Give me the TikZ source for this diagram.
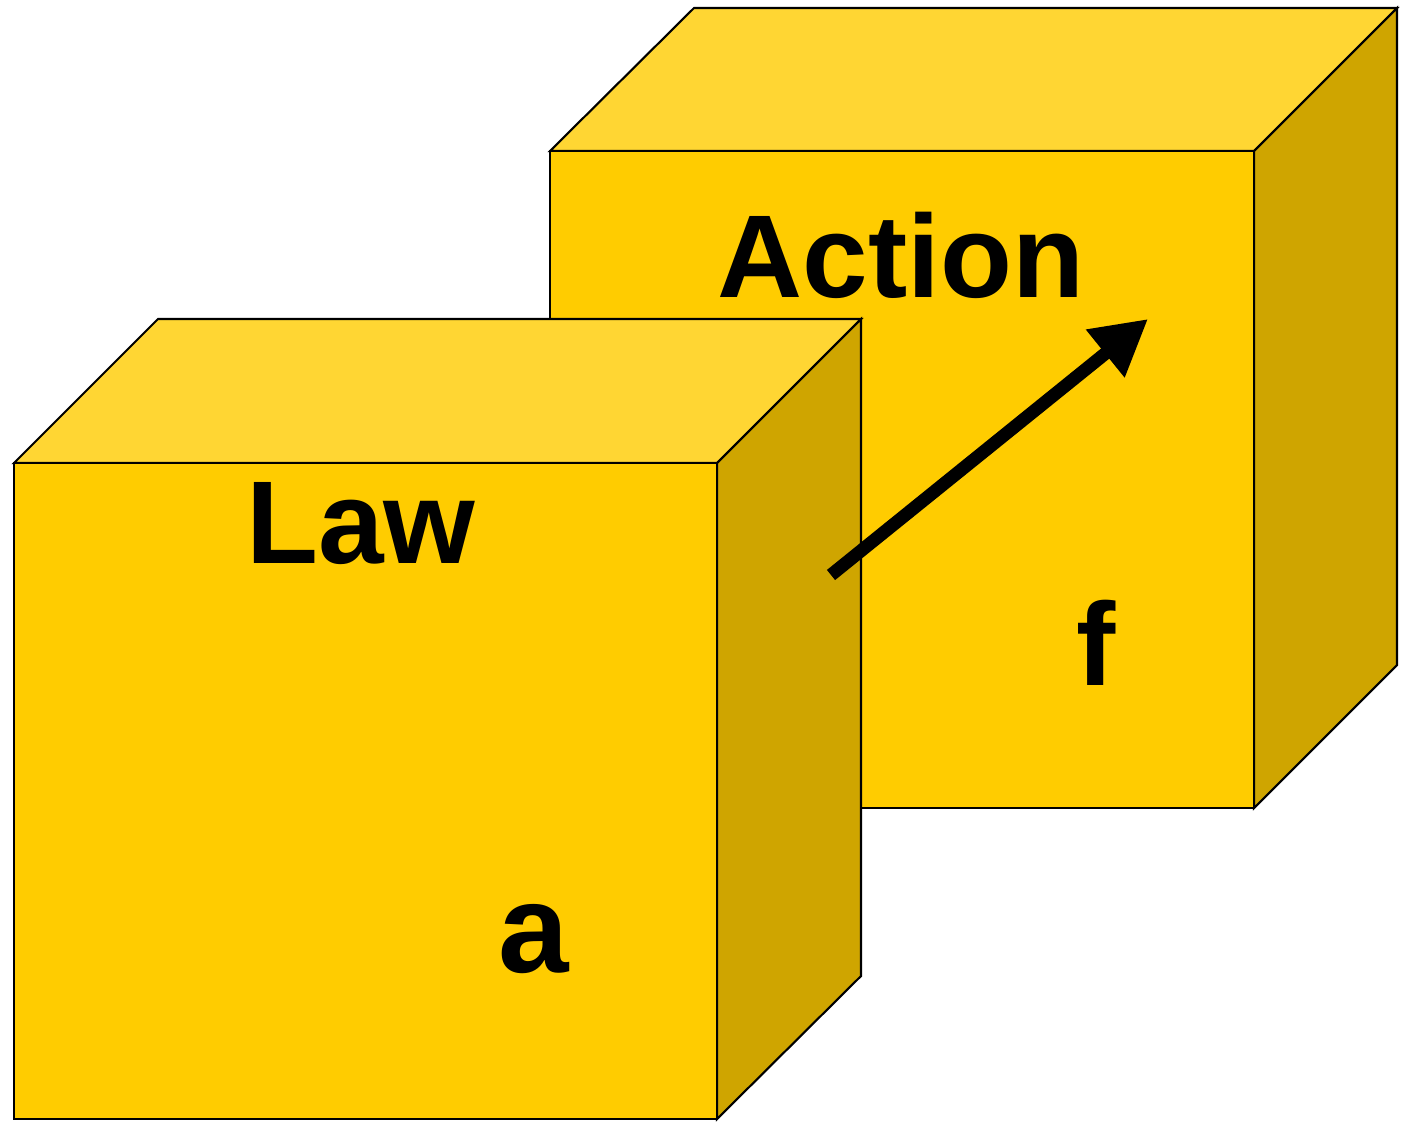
\documentclass[tikz,border=0pt]{standalone}
\usepackage{fontspec}
\setmainfont{Liberation Sans}
\usepackage{xcolor}
\usetikzlibrary{arrows.meta}

\definecolor{cara}{HTML}{FFCC00}
\definecolor{tapa}{HTML}{FFD633}
\definecolor{lado}{HTML}{CFA500}

\begin{document}
\begin{tikzpicture}[x=0.01cm, y=-0.01cm, line join=miter,
  frente/.style={draw, line width=0.6pt, fill=cara},
  arriba/.style={draw, line width=0.6pt, fill=tapa},
  costado/.style={draw, line width=0.6pt, fill=lado},
  rotulo/.style={font=\bfseries\fontsize{33.5}{40}\selectfont, inner sep=0pt, anchor=base},
  flecha/.style={-{Triangle[length=0.55cm, width=0.58cm]}, line width=0.13cm}]
\useasboundingbox (0,0) rectangle (1409,1121);
% cubo de atras
\filldraw[arriba] (550,151) -- (694,8) -- (1397,8) -- (1254,151) -- cycle;
\filldraw[costado] (1254,151) -- (1397,8) -- (1397,665) -- (1254,808) -- cycle;
\filldraw[frente] (550,151) rectangle (1254,808);
% cubo de adelante
\filldraw[arriba] (14,463) -- (158,319) -- (861,319) -- (717,463) -- cycle;
\filldraw[costado] (717,463) -- (861,319) -- (861,976) -- (717,1119) -- cycle;
\filldraw[frente] (14,463) rectangle (717,1119);
% textos
\node[rotulo] (accion) at (901,297) {Action};
\node[rotulo] (ley) at (361,563) {Law};
\node[rotulo] (efe) at (1096,685) {f};
\node[rotulo, font=\bfseries\fontsize{36}{42}\selectfont] (ache) at (534,972) {a};
% flecha
\coordinate (inicio) at (831,575);
\coordinate (punta) at (1148,319);
\draw[flecha] (inicio) -- (punta);
\end{tikzpicture}
\end{document}
